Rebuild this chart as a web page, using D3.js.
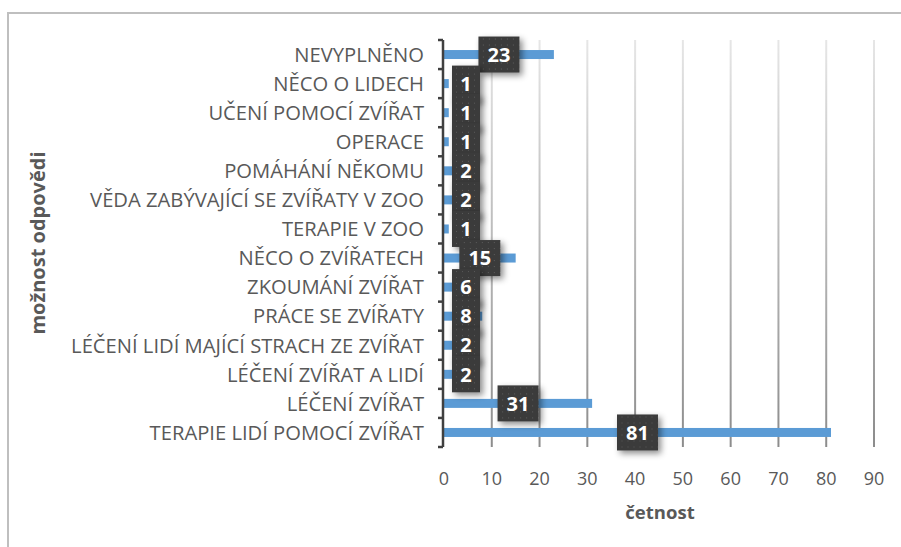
<!DOCTYPE html>
<html>
<head>
<meta charset="utf-8">
<script src="https://cdn.jsdelivr.net/npm/d3@7"></script>
<style>
  body{margin:0;background:#fff;}
  svg{display:block;}
</style>
</head>
<body>
<svg id="chart" width="901" height="547"></svg>
<script>
// data, top row first
let categories = [
  "NEVYPLNĚNO",
  "NĚCO O LIDECH",
  "UČENÍ POMOCÍ ZVÍŘAT",
  "OPERACE",
  "POMÁHÁNÍ NĚKOMU",
  "VĚDA ZABÝVAJÍCÍ SE ZVÍŘATY V ZOO",
  "TERAPIE V ZOO",
  "NĚCO O ZVÍŘATECH",
  "ZKOUMÁNÍ ZVÍŘAT",
  "PRÁCE SE ZVÍŘATY",
  "LÉČENÍ LIDÍ MAJÍCÍ STRACH ZE ZVÍŘAT",
  "LÉČENÍ ZVÍŘAT A LIDÍ",
  "LÉČENÍ ZVÍŘAT",
  "TERAPIE LIDÍ POMOCÍ ZVÍŘAT"
];
let counts = [23, 1, 1, 1, 2, 2, 1, 15, 6, 8, 2, 2, 31, 81];
let xTicks = [0, 10, 20, 30, 40, 50, 60, 70, 80, 90];
let xTitle = "četnost";
let yTitle = "možnost odpovědi";

let rows = categories.map((c,i)=>({cat:c, val:counts[i]}));

let svg = d3.select("#chart");
let pLeft=444, pRight=874, pTop=40, pBottom=447;

let x = d3.scaleLinear().domain([0,90]).range([pLeft,pRight]);
let y = d3.scaleBand().domain(categories).range([pTop,pBottom]);

let defs = svg.append("defs");

let grad = defs.append("linearGradient")
    .attr("id","gridgrad")
    .attr("gradientUnits","userSpaceOnUse")
    .attr("x1",0).attr("y1",pTop).attr("x2",0).attr("y2",pBottom);
grad.append("stop").attr("offset","0%").attr("stop-color","#e6e6e6");
grad.append("stop").attr("offset","100%").attr("stop-color","#8c8c8c");

let pat = defs.append("pattern")
    .attr("id","dots")
    .attr("patternUnits","userSpaceOnUse")
    .attr("width",6).attr("height",6);
pat.append("rect").attr("width",6).attr("height",6).attr("fill","#3b3b3b");
pat.append("rect").attr("x",2).attr("y",2).attr("width",1).attr("height",1).attr("fill","#5a5a5a");

let shadow = defs.append("filter").attr("id","shadow")
    .attr("x","-30%").attr("y","-30%").attr("width","180%").attr("height","180%");
shadow.append("feDropShadow")
    .attr("dx",3).attr("dy",3).attr("stdDeviation",3)
    .attr("flood-color","#000").attr("flood-opacity",0.45);

// outer frame (only left and top edges are inside the picture)
svg.append("path")
    .attr("d","M8,547 V13 H901")
    .attr("fill","none")
    .attr("stroke","#bfbfbf")
    .attr("stroke-width",2);

// vertical grid lines
svg.append("g")
    .selectAll("line")
    .data(xTicks.filter(d=>d>0))
    .join("line")
    .attr("x1",d=>x(d)).attr("x2",d=>x(d))
    .attr("y1",pTop).attr("y2",pBottom)
    .attr("stroke","url(#gridgrad)")
    .attr("stroke-width",2);

// bars
svg.append("g")
    .selectAll("rect")
    .data(rows)
    .join("rect")
    .attr("x",x(0))
    .attr("y",d=>y(d.cat)+y.bandwidth()/2-4.5)
    .attr("width",d=>x(d.val)-x(0))
    .attr("height",9)
    .attr("fill","#5b9bd5");

// y axis with bracket-like ticks
let yax = svg.append("g");
yax.append("line")
    .attr("x1",pLeft-1).attr("x2",pLeft-1)
    .attr("y1",pTop).attr("y2",pBottom)
    .attr("stroke","#404040").attr("stroke-width",2.5);
let bounds = categories.map(c=>y(c)).concat([pBottom]);
yax.selectAll("line.tk")
    .data(bounds)
    .join("line")
    .attr("class","tk")
    .attr("x1",pLeft-6).attr("x2",pLeft-1)
    .attr("y1",d=>d).attr("y2",d=>d)
    .attr("stroke","#404040").attr("stroke-width",2.5);

// category labels
svg.append("g")
    .selectAll("text")
    .data(rows)
    .join("text")
    .attr("x",424)
    .attr("y",d=>y(d.cat)+y.bandwidth()/2)
    .attr("dy","0.36em")
    .attr("text-anchor","end")
    .attr("font-family","'Open Sans', sans-serif")
    .attr("font-size",20.2)
    .attr("fill","#595959")
    .text(d=>d.cat);

// x tick labels
svg.append("g")
    .selectAll("text")
    .data(xTicks)
    .join("text")
    .attr("x",d=>x(d))
    .attr("y",485)
    .attr("text-anchor","middle")
    .attr("font-family","'Open Sans', sans-serif")
    .attr("font-size",18)
    .attr("fill","#595959")
    .text(d=>d);

// axis titles
svg.append("text")
    .attr("x",660).attr("y",519)
    .attr("text-anchor","middle")
    .attr("font-family","'Open Sans', sans-serif")
    .attr("font-weight","bold")
    .attr("font-size",18.5)
    .attr("fill","#595959")
    .text(xTitle);

svg.append("text")
    .attr("transform","translate(45,243) rotate(-90)")
    .attr("text-anchor","middle")
    .attr("font-family","'Open Sans', sans-serif")
    .attr("font-weight","bold")
    .attr("font-size",20)
    .attr("fill","#595959")
    .text(yTitle);

// data labels: dark boxes centred on the bar, pushed right for short bars
let lab = svg.append("g")
    .selectAll("g")
    .data(rows)
    .join("g")
    .attr("transform",d=>{
        let cx = Math.max(x(d.val/2), pLeft+22);
        return "translate("+cx+","+(y(d.cat)+y.bandwidth()/2)+")";
    });

lab.append("rect")
    .attr("x",d=>String(d.val).length>1 ? -20.5 : -14)
    .attr("y",-18)
    .attr("width",d=>String(d.val).length>1 ? 41 : 28)
    .attr("height",36)
    .attr("fill","url(#dots)")
    .attr("filter","url(#shadow)");

lab.append("text")
    .attr("text-anchor","middle")
    .attr("dy","0.36em")
    .attr("font-family","'Open Sans', sans-serif")
    .attr("font-weight","bold")
    .attr("font-size",20)
    .attr("fill","#ffffff")
    .text(d=>d.val);
</script>
</body>
</html>
